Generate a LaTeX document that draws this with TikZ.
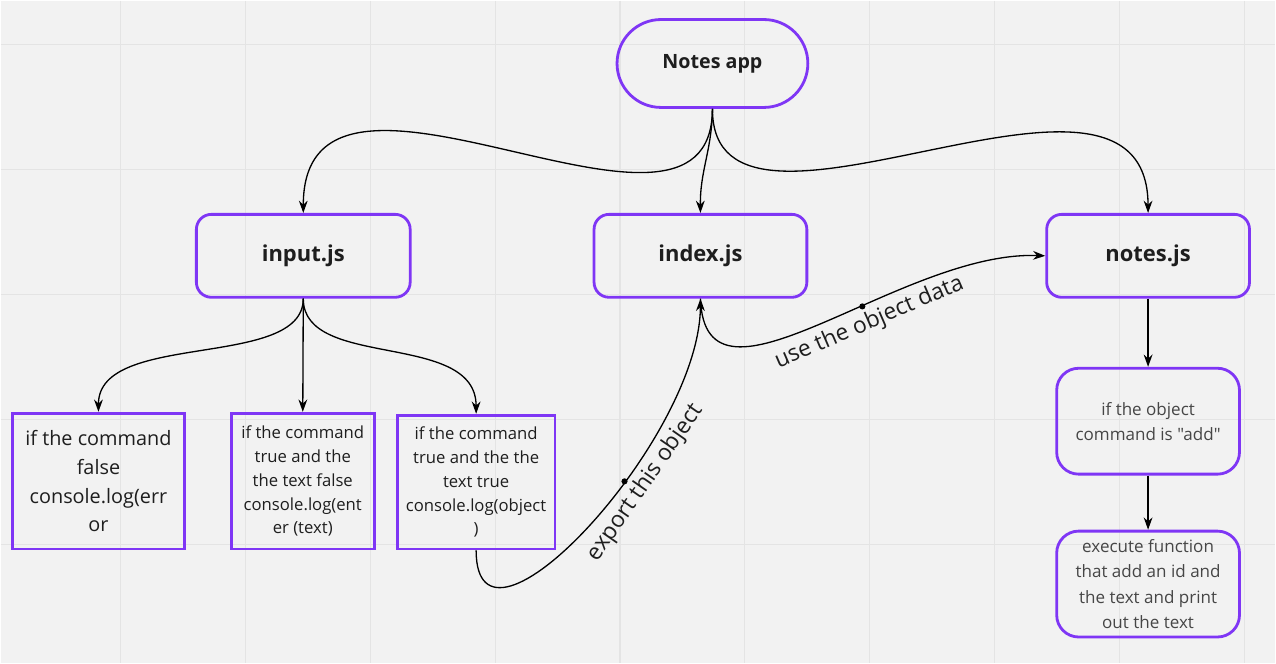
\documentclass[tikz,border=0pt]{standalone}
\usepackage{fontspec}
\setmainfont{Open Sans}[Ligatures=TeXOff]
\usetikzlibrary{arrows.meta,positioning}
\definecolor{boxpurple}{RGB}{127,54,245}
\definecolor{paper}{RGB}{242,242,242}
\definecolor{gridgray}{RGB}{228,228,228}
\definecolor{inktext}{RGB}{30,30,30}
\definecolor{greytext}{RGB}{70,70,70}

\begin{document}
\begin{tikzpicture}[x=0.02cm,y=-0.02cm,
  >={Stealth[length=7pt,width=5pt]},
  link/.style={->, line width=0.75pt},
  pill/.style={draw=boxpurple, line width=1.6pt, rounded corners=0.88cm, minimum width=3.82cm, minimum height=1.76cm, font=\fontsize{11.2}{13}\selectfont\bfseries, text=inktext},
  jsbox/.style={draw=boxpurple, line width=1.6pt, rounded corners=0.3cm, minimum height=1.66cm, font=\fontsize{12.5}{14}\selectfont\bfseries, text=inktext},
  plainbox/.style={draw=boxpurple, line width=1.6pt, minimum height=2.72cm, align=center, text=inktext, inner sep=0pt},
  roundbox/.style={draw=boxpurple, line width=1.6pt, rounded corners=0.44cm, minimum width=3.66cm, minimum height=2.12cm, align=center, text=greytext, inner sep=0pt, font=\fontsize{9.7}{14.3}\selectfont},
  tag/.style={font=\fontsize{13}{15}\selectfont, text=inktext},
  dot/.style={circle, fill, inner sep=0pt, minimum size=3.5pt}]
% background and grid
\fill[paper] (0,0) rectangle (1276,663);
\foreach \gx in {120,245,...,1245} \draw[gridgray, line width=0.6pt] (\gx,0) -- (\gx,663);
\foreach \gy in {44,169,...,544} \draw[gridgray, line width=0.6pt] (0,\gy) -- (1276,\gy);
\useasboundingbox (0,0) rectangle (1276,663);

% nodes
\node [pill] (app) at (712.5,63) {Notes app};
\node [jsbox, minimum width=4.28cm] (input) at (303,255.5) {input.js};
\node [jsbox, minimum width=4.26cm] (index) at (700.5,255.5) {index.js};
\node [jsbox, minimum width=4.06cm] (notes) at (1148.5,255.5) {notes.js};
\node [plainbox, minimum width=3.44cm, font=\fontsize{11.3}{16.4}\selectfont] (errbox) at (98,481) {if the command\\false\\console.log(err\\or};
\node [plainbox, minimum width=2.86cm, font=\fontsize{9.5}{13.6}\selectfont] (enterbox) at (302.5,481) {if the command\\true and the\\the text false\\console.log(ent\\er (text)};
\node [plainbox, minimum width=3.16cm, minimum height=2.68cm, font=\fontsize{9.5}{13.6}\selectfont] (objbox) at (476,482) {if the command\\true and the the\\text true\\console.log(object\\)};
\node [roundbox] (addbox) at (1148.5,421) {if the object\\command is "add"};
\node [roundbox] (execbox) at (1148.5,584) {execute function\\that add an id and\\the text and print\\out the text};

% connectors
\draw [link] (app.south) .. controls (712,290) and (303,5) .. (input.north);
\draw [link] (app.south) .. controls (712,150) and (700,170) .. (index.north);
\draw [link] (app.south) .. controls (712,285) and (1148,10) .. (notes.north);
\draw [link] (input.south) .. controls (303,370) and (98,330) .. (errbox.north);
\draw [link] (input.south) -- (enterbox.north);
\draw [link] (input.south) .. controls (303,370) and (476,330) .. (objbox.north);
\draw [link] (objbox.south) .. controls (476,680) and (700,440) .. (index.south)
  node [dot, pos=0.61] {}
  node [tag, sloped, below, pos=0.63] {export this object};
\draw [link] (index.south) .. controls (705,430) and (900,250) .. (notes.west)
  node [dot, pos=0.6] {}
  node [tag, sloped, below, pos=0.6] {use the object data};
\draw [link] (notes.south) -- (addbox.north);
\draw [link] (addbox.south) -- (execbox.north);
\end{tikzpicture}
\end{document}
